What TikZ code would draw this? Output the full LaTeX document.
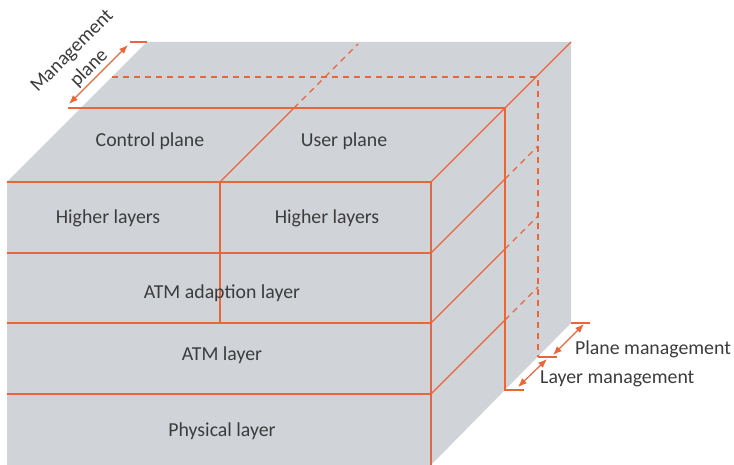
\documentclass[tikz,border=0pt]{standalone}
\usepackage{fontspec}
\setmainfont{Carlito}
\usetikzlibrary{arrows.meta}
\definecolor{boxgray}{HTML}{D0D4D8}
\definecolor{rulecol}{HTML}{E8663A}
\definecolor{txtgray}{HTML}{3C3C3C}
\tikzset{
  edge/.style={rulecol,line width=1.2pt},
  hidden/.style={edge,dash pattern=on 6pt off 5pt},
  dimarrow/.style={rulecol,line width=1.2pt,{Latex[length=9pt,width=7pt]}-{Latex[length=9pt,width=7pt]}},
  lbl/.style={text=txtgray,font=\fontsize{19.8}{24}\selectfont,inner sep=0pt}
}
\begin{document}
\begin{tikzpicture}[x=1pt,y=-1pt]
\useasboundingbox (0,0) rectangle (734,465);
% the block: front, top and right side
\fill[boxgray] (7,182) -- (147,42) -- (571,42) -- (571,323) -- (431,465) -- (7,465) -- cycle;
\begin{scope}[edge]
    % front face
    \foreach \y in {182,253,323,394}
        \draw (7,\y) -- (431,\y);
    \draw (431,182) -- (431,465);
    \draw (220,182) -- (220,323);
    % top face
    \draw (431,182) -- (571,42);
    \draw (220,182) -- (294,108);
    \draw (68,108) -- (505,108) -- (505,390) -- (524,390);
    \draw (130,42) -- (147,42);
    % right face
    \foreach \y in {253,323,394}
        \draw (431,\y) -- ++(74,-74);
    \draw (538,357) -- (557,357);
    \draw (571,323) -- (590,323);
\end{scope}
\begin{scope}[hidden]
    \draw (294,108) -- (358,44);
    \draw (112,77) -- (538,77) -- (538,357);
    \foreach \y in {253,323,394}
        \draw (505,\y-74) -- ++(33,-33);
\end{scope}
% labels
\node[lbl] (ctrl) at (150,141) {Control plane};
\node[lbl] (user) at (344,141) {User plane};
\node[lbl] (hiL) at (108,218) {Higher layers};
\node[lbl] (hiR) at (327,218) {Higher layers};
\node[lbl] (aal) at (222,293) {ATM adaption layer};
\node[lbl] (atm) at (222,355) {ATM layer};
\node[lbl] (phy) at (222,431) {Physical layer};
\node[lbl,anchor=west] (planemg) at (575,349) {Plane management};
\node[lbl,anchor=west] (layermg) at (540,379) {Layer management};
\node[lbl,rotate=45,align=center] (mgplane) at (81,60) {Management\\plane};
% dimension arrows
\coordinate (mgTop) at (128,45);
\coordinate (mgBot) at (69,104);
\coordinate (pmTop) at (584,324);
\coordinate (pmBot) at (553,355);
\coordinate (lmTop) at (547,359);
\coordinate (lmBot) at (518,387);
\draw[dimarrow] (mgBot) -- (mgTop);
\draw[dimarrow] (pmBot) -- (pmTop);
\draw[dimarrow] (lmTop) -- (lmBot);
\end{tikzpicture}
\end{document}
